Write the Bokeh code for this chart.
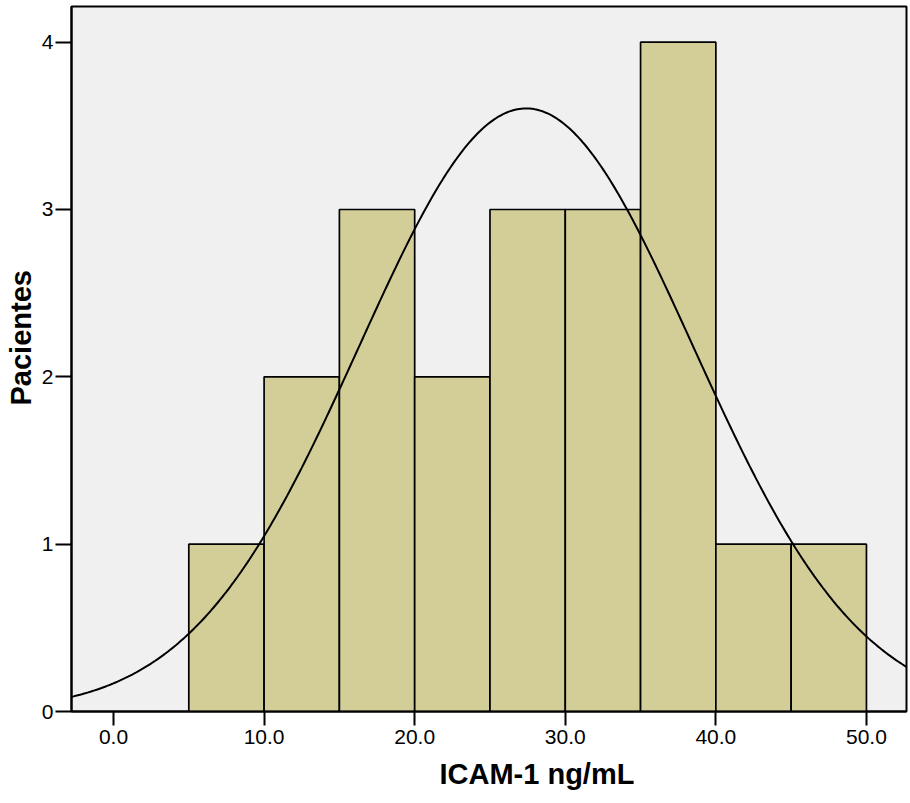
import numpy as np
from bokeh.plotting import figure
from bokeh.models import FixedTicker, NumeralTickFormatter, Range1d, Title
from bokeh.embed import file_html
from bokeh.resources import INLINE

# Data
bin_left = [5, 10, 15, 20, 25, 30, 35, 40, 45]
counts = [1, 2, 3, 2, 3, 3, 4, 1, 1]
bin_width = 5
x_ticks = [0, 10, 20, 30, 40, 50]
y_ticks = [0, 1, 2, 3, 4]
# normal curve parameters (as fitted by SPSS)
mean = 27.4
sd = 11.07
n = sum(counts)

x_title = "ICAM-1 ng/mL"
y_title = "Pacientes"

x_lo, x_hi = -2.79, 52.66
y_lo, y_hi = 0, 4.213

p = figure(width=910, height=803, output_backend="svg", toolbar_location=None,
           x_range=Range1d(x_lo, x_hi), y_range=Range1d(y_lo, y_hi),
           min_border_left=71, min_border_right=4, min_border_top=6,
           min_border_bottom=92)

p.background_fill_color = "#F0F0F0"
p.border_fill_color = "white"
p.outline_line_color = "black"
p.outline_line_width = 2
p.xgrid.visible = False
p.ygrid.visible = False

right = [b + bin_width for b in bin_left]
p.quad(left=bin_left, right=right, bottom=0, top=counts,
       fill_color="#D3CE98", line_color="black", line_width=1.7)

xs = np.linspace(x_lo, x_hi, 400)
ys = n * bin_width / (sd * np.sqrt(2 * np.pi)) * np.exp(-0.5 * ((xs - mean) / sd) ** 2)
p.line(xs, ys, line_color="black", line_width=2)

font = "Liberation Sans"
for ax in (p.xaxis[0], p.yaxis[0]):
    ax.axis_line_color = "black"
    ax.axis_line_width = 2
    ax.major_tick_line_color = "black"
    ax.major_tick_line_width = 2
    ax.major_tick_in = 0
    ax.minor_tick_line_color = None
    ax.major_label_text_font = font
    ax.major_label_text_font_size = "21px"
    ax.major_label_text_color = "black"

p.xaxis[0].ticker = FixedTicker(ticks=x_ticks)
p.xaxis[0].formatter = NumeralTickFormatter(format="0.0")
p.xaxis[0].major_tick_out = 14
p.xaxis[0].major_label_standoff = 4

p.yaxis[0].ticker = FixedTicker(ticks=y_ticks)
p.yaxis[0].major_tick_out = 16
p.yaxis[0].major_label_standoff = 2

# axis titles, placed off-centre as in the SPSS output
p.add_layout(Title(text=x_title, text_font=font, text_font_size="29px",
                   text_font_style="bold", text_color="black",
                   align="left", offset=368, standoff=18), "below")
p.add_layout(Title(text=y_title, text_font=font, text_font_size="29px",
                   text_font_style="bold", text_color="black",
                   align="left", offset=306, standoff=4), "left")

open("out.html", "w").write(file_html(p, INLINE))
